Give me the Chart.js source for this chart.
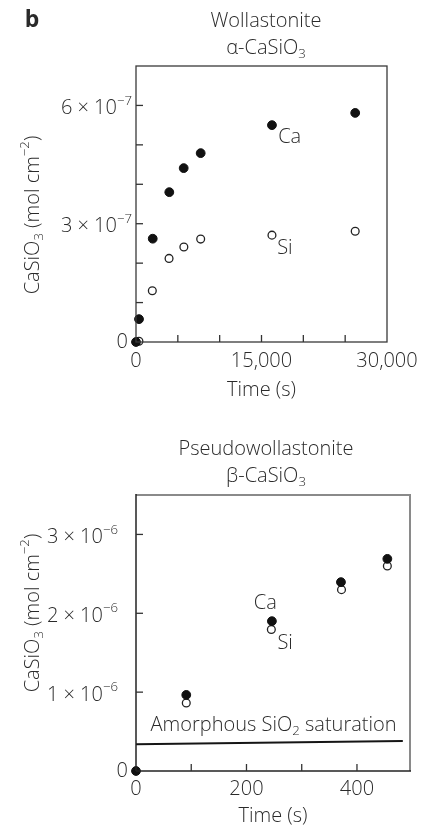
<!DOCTYPE html>
<html>
<head>
<meta charset="utf-8">
<script src="https://cdn.jsdelivr.net/npm/chart.js@4"></script>
<style>
  html, body { margin: 0; padding: 0; background: #fff; }
  #wrap { position: relative; width: 425px; height: 825px; }
  #c1 { position: absolute; left: 0; top: 0; }
  #c2 { position: absolute; left: 0; top: 400px; }
</style>
</head>
<body>
<div id="wrap">
  <canvas id="c1" width="425" height="400"></canvas>
  <canvas id="c2" width="425" height="425"></canvas>
</div>
<script>
// Wollastonite (alpha-CaSiO3), amounts in 1e-7 mol cm^-2
const wollCaTime = [0, 360, 2000, 3980, 5700, 7730, 16250, 26200];
const wollCa = [0, 0.58, 2.62, 3.80, 4.41, 4.79, 5.50, 5.81];
const wollSiTime = [350, 1950, 3950, 5720, 7730, 16250, 26200];
const wollSi = [0.02, 1.30, 2.12, 2.41, 2.61, 2.71, 2.81];
const wollXTicks = [0, 5000, 10000, 15000, 20000, 25000, 30000];
const wollXLabels = [0, 15000, 30000];
const wollYTicks = [0, 1, 2, 3, 4, 5, 6, 7];
const wollYLabels = [3, 6];

// Pseudowollastonite (beta-CaSiO3), amounts in 1e-6 mol cm^-2
const pseudoCaTime = [0, 91, 246, 371, 455];
const pseudoCa = [0, 0.965, 1.90, 2.395, 2.69];
const pseudoSiTime = [91, 245, 372, 455];
const pseudoSi = [0.863, 1.794, 2.30, 2.60];
const satTime = [0, 483];
const satLevel = [0.34, 0.38];
const pseudoXTicks = [0, 100, 200, 300, 400];
const pseudoXLabels = [0, 200, 400];
const pseudoYTicks = [0, 1, 2, 3];
const pseudoYLabels = [1, 2, 3];

const FONT = '"Open Sans", "DejaVu Sans", sans-serif';
const INK = '#2a2a2a';

const pts = (xs, ys, k) => xs.map((x, i) => ({ x: x, y: ys[i] * k }));

// text with sub/superscript parts: [[text], [text, 'sub'|'sup'], ...]
function rich(ctx, parts, x, y, size, align, weight) {
  const small = size * 0.66;
  const fontOf = s => `${weight || 300} ${s}px ${FONT}`;
  let total = 0;
  const widths = parts.map(([t, k]) => {
    ctx.font = fontOf(k ? small : size);
    const w = ctx.measureText(t).width;
    total += w;
    return w;
  });
  let cx = align === 'center' ? x - total / 2 : align === 'right' ? x - total : x;
  ctx.textAlign = 'left';
  ctx.textBaseline = 'middle';
  parts.forEach(([t, k], i) => {
    ctx.font = fontOf(k ? small : size);
    const dy = k === 'sub' ? size * 0.32 : k === 'sup' ? -size * 0.38 : 0;
    ctx.fillText(t, cx, y + dy);
    cx += widths[i];
  });
}

function line(ctx, x1, y1, x2, y2) {
  ctx.beginPath();
  ctx.moveTo(x1, y1);
  ctx.lineTo(x2, y2);
  ctx.stroke();
}

function figurePlugin(o) {
  return {
    id: 'figure',
    afterDraw(chart) {
      const ctx = chart.ctx;
      const a = chart.chartArea;
      const xs = chart.scales.x;
      const ys = chart.scales.y;
      ctx.save();

      // frame
      if (o.greyFrame) {
        ctx.strokeStyle = '#8a8a8a';
        ctx.lineWidth = 2;
        line(ctx, a.left, a.top, a.right, a.top);
        line(ctx, a.right, a.top - 1, a.right, a.bottom);
        ctx.strokeStyle = '#222';
        ctx.lineWidth = 1.5;
        line(ctx, a.left, a.top - 1, a.left, a.bottom);
        line(ctx, a.left, a.bottom, a.right + 1, a.bottom);
      } else {
        ctx.strokeStyle = '#3a3a3a';
        ctx.lineWidth = 1.3;
        ctx.strokeRect(a.left, a.top, a.right - a.left, a.bottom - a.top);
      }

      // inward tick marks
      ctx.strokeStyle = '#333';
      ctx.lineWidth = 1.3;
      o.xTicks.forEach(v => {
        const px = xs.getPixelForValue(v);
        if (px > a.left + 2 && px < a.right - 2) line(ctx, px, a.bottom, px, a.bottom - 7);
      });
      o.yTicks.forEach(v => {
        const py = ys.getPixelForValue(v * o.unit);
        if (py > a.top + 2 && py < a.bottom - 2) line(ctx, a.left, py, a.left + 7, py);
      });

      ctx.fillStyle = INK;
      // y tick labels
      rich(ctx, [['0']], a.left - 8, ys.getPixelForValue(0), 20, 'right');
      o.yLabels.forEach(v => {
        rich(ctx, [[v + ' \u00d7 10'], [o.exp, 'sup']], a.left - o.gap,
          ys.getPixelForValue(v * o.unit) + 3, 20, 'right');
      });

      // y axis title
      ctx.save();
      ctx.translate(33, o.yTitleY);
      ctx.rotate(-Math.PI / 2);
      rich(ctx, [['CaSiO'], ['3', 'sub'], [' (mol cm'], ['\u22122', 'sup'], [')']], 0, 0, 20, 'center');
      ctx.restore();

      // panel titles
      rich(ctx, [[o.title]], 266, o.titleY, 20, 'center');
      rich(ctx, [[o.phase + '-CaSiO'], ['3', 'sub']], 266, o.titleY + 27, 20, 'center');
      if (o.panel) rich(ctx, [[o.panel]], 32, 20, 23, 'center', 700);

      // notes placed in data coordinates
      o.notes.forEach(n => {
        rich(ctx, n.parts, xs.getPixelForValue(n.x), ys.getPixelForValue(n.y), 20, 'center');
      });
      ctx.restore();
    }
  };
}

function makeOptions(o) {
  const font = { family: FONT, size: 20, weight: 300 };
  return {
    responsive: false,
    animation: false,
    layout: { padding: o.padding },
    plugins: { legend: { display: false }, tooltip: { enabled: false } },
    scales: {
      x: {
        type: 'linear', min: 0, max: o.xMax,
        afterBuildTicks: s => { s.ticks = o.xLabels.map(v => ({ value: v })); },
        afterFit: s => { s.height = o.xHeight; },
        grid: { display: false, drawTicks: false },
        border: { display: false },
        ticks: {
          autoSkip: false, maxRotation: 0,
          padding: o.xPad, color: INK, font: font,
          callback: v => v.toLocaleString('en-US')
        },
        title: { display: true, text: 'Time (s)', color: INK, font: font, padding: { top: 0, bottom: o.titlePad } }
      },
      y: {
        type: 'linear', min: 0, max: o.yMax,
        afterFit: s => { s.width = 136; },
        grid: { display: false, drawTicks: false },
        border: { display: false },
        ticks: { display: false }
      }
    }
  };
}

const caStyle = { pointRadius: 4.4, pointBackgroundColor: '#111', pointBorderColor: '#111', pointBorderWidth: 1, showLine: false, clip: false };
const siStyle = { pointRadius: 3.9, pointBackgroundColor: '#fff', pointBorderColor: '#222', pointBorderWidth: 1.3, showLine: false, clip: false };

new Chart(document.getElementById('c1'), {
  type: 'scatter',
  data: {
    datasets: [
      Object.assign({ label: 'Ca', data: pts(wollCaTime, wollCa, 1e-7) }, caStyle),
      Object.assign({ label: 'Si', data: pts(wollSiTime, wollSi, 1e-7) }, siStyle)
    ]
  },
  options: makeOptions({
    padding: { left: 0, right: 38, top: 66, bottom: 0 },
    xMax: 30000, xLabels: wollXLabels, xHeight: 58, xPad: 7, titlePad: -2,
    yMax: 7e-7
  }),
  plugins: [figurePlugin({
    xTicks: wollXTicks, yTicks: wollYTicks,
    yLabels: wollYLabels, unit: 1e-7, exp: '\u22127', gap: 4, yTitleY: 215,
    title: 'Wollastonite', phase: '\u03b1', titleY: 21, panel: 'b',
    notes: [
      { parts: [['Ca']], x: 18370, y: 5.18e-7 },
      { parts: [['Si']], x: 17800, y: 2.38e-7 }
    ]
  })]
});

new Chart(document.getElementById('c2'), {
  type: 'scatter',
  data: {
    datasets: [
      Object.assign({ label: 'Ca', data: pts(pseudoCaTime, pseudoCa, 1e-6) }, caStyle),
      Object.assign({ label: 'Si', data: pts(pseudoSiTime, pseudoSi, 1e-6) }, siStyle),
      { label: 'Amorphous SiO2 saturation', data: pts(satTime, satLevel, 1e-6), showLine: true,
        borderColor: '#151515', borderWidth: 2, pointRadius: 0, clip: false }
    ]
  },
  options: makeOptions({
    padding: { left: 0, right: 15, top: 95, bottom: 0 },
    xMax: 496, xLabels: pseudoXLabels, xHeight: 54, xPad: 6, titlePad: -3,
    yMax: 3.5e-6
  }),
  plugins: [figurePlugin({
    xTicks: pseudoXTicks, yTicks: pseudoYTicks,
    yLabels: pseudoYLabels, unit: 1e-6, exp: '\u22126', gap: 18, yTitleY: 213, greyFrame: true,
    title: 'Pseudowollastonite', phase: '\u03b2', titleY: 49,
    notes: [
      { parts: [['Ca']], x: 234, y: 2.13e-6 },
      { parts: [['Si']], x: 270, y: 1.62e-6 },
      { parts: [['Amorphous SiO'], ['2', 'sub'], [' saturation']], x: 249, y: 0.58e-6 }
    ]
  })]
});
</script>
</body>
</html>
